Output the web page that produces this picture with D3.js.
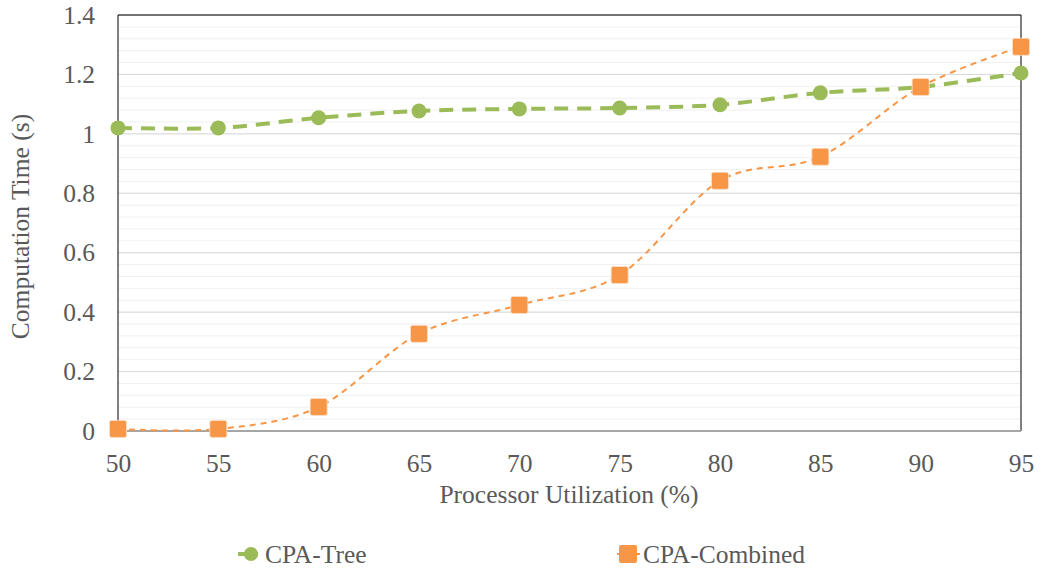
<!DOCTYPE html>
<html><head><meta charset="utf-8">
<script src="https://cdn.jsdelivr.net/npm/d3@7"></script>
<style>body{margin:0;background:#fff}svg{display:block}</style>
</head><body><svg id="c" width="1043" height="569"></svg>
<script>
const utilization = [50,55,60,65,70,75,80,85,90,95];
const cpaTree = [1.02,1.02,1.054,1.077,1.084,1.087,1.098,1.138,1.158,1.205];
const cpaCombined = [0.007,0.007,0.081,0.327,0.424,0.525,0.842,0.923,1.158,1.293];
const yTicks = [0,0.2,0.4,0.6,0.8,1,1.2,1.4];
const seriesNames = ["CPA-Tree","CPA-Combined"];

const svg = d3.select("#c");
const L=118,R=1021,T=15,B=431;
const x = d3.scaleLinear().domain([50,95]).range([L,R]);
const y = d3.scaleLinear().domain([0,1.4]).range([B,T]);
const FONT = "Liberation Serif";
const FS = 25.5;
const txt = "#595959";

// minor gridlines
const minor = d3.range(0,1.4001,0.04);
svg.append("g").selectAll("line").data(minor).join("line")
  .attr("x1",L).attr("x2",R).attr("y1",d=>y(d)).attr("y2",d=>y(d))
  .attr("stroke","#f0f0f0").attr("stroke-width",1);
svg.append("g").selectAll("line").data(yTicks).join("line")
  .attr("x1",L).attr("x2",R).attr("y1",d=>y(d)).attr("y2",d=>y(d))
  .attr("stroke","#d9d9d9").attr("stroke-width",1);

// border
svg.append("line").attr("x1",L).attr("x2",L).attr("y1",T).attr("y2",B).attr("stroke","#000").attr("stroke-width",1);
svg.append("line").attr("x1",R).attr("x2",R).attr("y1",T).attr("y2",B).attr("stroke","#000").attr("stroke-width",1);
svg.append("line").attr("x1",L).attr("x2",R).attr("y1",T).attr("y2",T).attr("stroke","#000").attr("stroke-width",1);
svg.append("line").attr("x1",L).attr("x2",R).attr("y1",B).attr("y2",B).attr("stroke","#a6a6a6").attr("stroke-width",2);

// axes labels
const yAxis = d3.axisLeft(y).tickValues(yTicks).tickSize(0).tickPadding(23).tickFormat(d=>String(+d.toFixed(1)));
const gy = svg.append("g").attr("transform",`translate(${L},0)`).call(yAxis);
gy.select(".domain").remove();
gy.attr("font-family",FONT).attr("font-size",FS);
gy.selectAll("text").attr("fill",txt);

const xAxis = d3.axisBottom(x).tickValues(utilization).tickSize(0).tickPadding(23);
const gx = svg.append("g").attr("transform",`translate(0,${B})`).call(xAxis);
gx.select(".domain").remove();
gx.attr("font-family",FONT).attr("font-size",FS);
gx.selectAll("text").attr("fill",txt);

svg.append("text").attr("x",569).attr("y",503).attr("text-anchor","middle")
  .attr("font-family",FONT).attr("font-size",FS).attr("fill",txt).text("Processor Utilization (%)");
svg.append("text").attr("transform",`translate(29,226.5) rotate(-90)`).attr("text-anchor","middle")
  .attr("font-family",FONT).attr("font-size",FS).attr("fill",txt).text("Computation Time (s)");

const line = d3.line().curve(d3.curveCardinal.tension(0)).x((d,i)=>x(utilization[i])).y(d=>y(d));
const green="#9bbb59", orange="#f79646";

svg.append("path").attr("d",line(cpaCombined)).attr("fill","none").attr("stroke",orange)
  .attr("stroke-width",2).attr("stroke-dasharray","6,5");
svg.append("path").attr("d",line(cpaTree)).attr("fill","none").attr("stroke",green)
  .attr("stroke-width",4).attr("stroke-dasharray","14,9");

svg.append("g").selectAll("circle").data(cpaTree).join("circle")
  .attr("cx",(d,i)=>x(utilization[i])).attr("cy",d=>y(d)).attr("r",7.5).attr("fill",green);
svg.append("g").selectAll("rect").data(cpaCombined).join("rect")
  .attr("x",(d,i)=>x(utilization[i])-8.5).attr("y",d=>y(d)-8.5).attr("width",17).attr("height",17)
  .attr("rx",2).attr("fill",orange).attr("stroke","#fde0c8").attr("stroke-width",0.8);

// legend
const lg = svg.append("g");
lg.append("line").attr("x1",238).attr("x2",258).attr("y1",554).attr("y2",554).attr("stroke",green).attr("stroke-width",4);
lg.append("circle").attr("cx",251).attr("cy",554).attr("r",7).attr("fill",green);
lg.append("text").attr("x",265).attr("y",563).attr("font-family",FONT).attr("font-size",FS).attr("fill",txt).text(seriesNames[0]);
lg.append("line").attr("x1",617).attr("x2",640).attr("y1",554).attr("y2",554).attr("stroke",orange).attr("stroke-width",2);
lg.append("rect").attr("x",619).attr("y",545).attr("width",18).attr("height",18).attr("rx",2).attr("fill",orange);
lg.append("text").attr("x",643).attr("y",563).attr("font-family",FONT).attr("font-size",FS).attr("fill",txt).text(seriesNames[1]);
</script></body></html>
